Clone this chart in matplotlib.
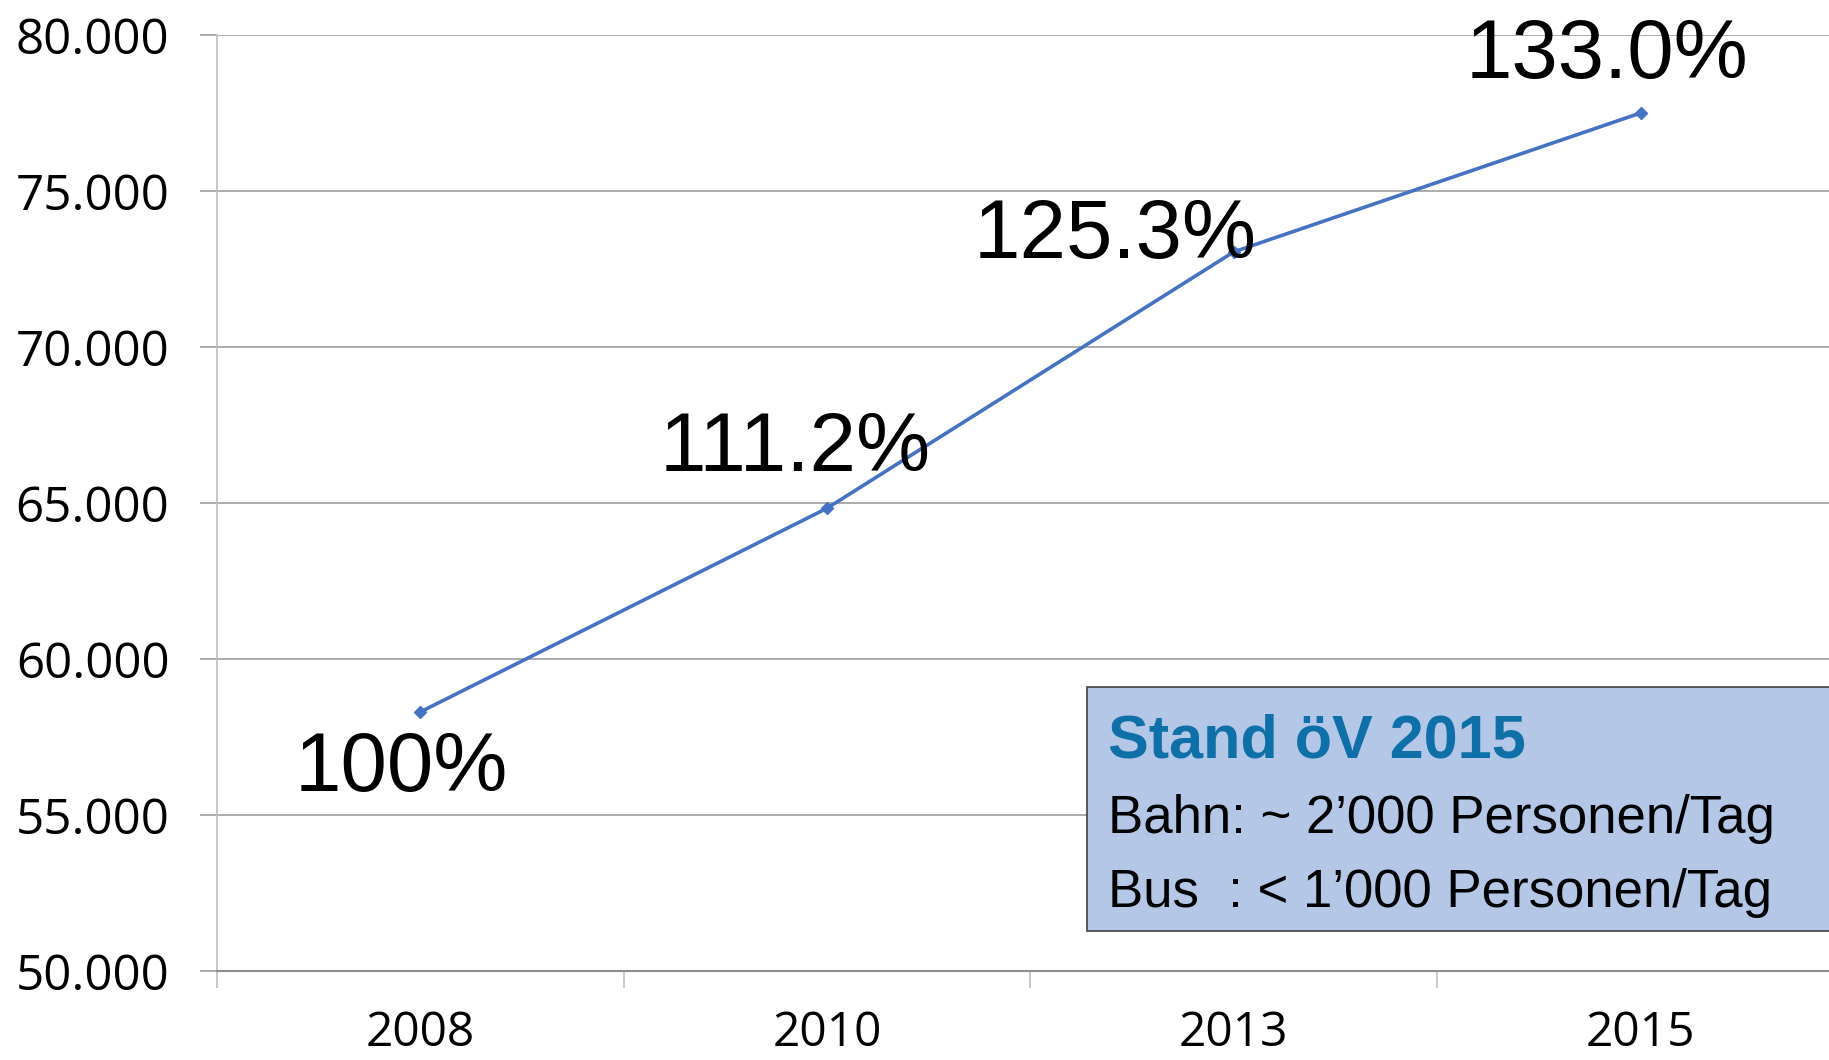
import matplotlib
matplotlib.use("Agg")
import matplotlib.pyplot as plt
from matplotlib.patches import Rectangle
from matplotlib.ticker import FuncFormatter

# daten
jahre = ["2008", "2010", "2013", "2015"]
personen = [58300, 64830, 73050, 77500]
prozent = ["100%", "111.2%", "125.3%", "133.0%"]
y_ticks = [50000, 55000, 60000, 65000, 70000, 75000, 80000]

box_titel = "Stand öV 2015"
box_zeilen = ["Bahn: ~ 2\u2019000 Personen/Tag", "Bus  : < 1\u2019000 Personen/Tag"]

# position der prozent-labels relativ zum punkt (in points)
label_offsets = [(-13.7, -56.9), (-22.5, 26.6), (-85.7, -4.3), (-24.5, 25.2)]

W, H = 1829, 1060
fig = plt.figure(figsize=(W / 100, H / 100), dpi=100)
ax = fig.add_axes([216.7 / W, 1 - 971 / H, (1844 - 216.7) / W, (971 - 35) / H])

x = list(range(len(jahre)))
ax.plot(x, personen, color="#4472C4", linewidth=2.6, marker="D", markersize=6.5, zorder=3)

for i, (v, txt) in enumerate(zip(personen, prozent)):
    ax.annotate(txt, (i, v), xytext=label_offsets[i], textcoords="offset points",
                ha="center", va="baseline", fontsize=60, family="Liberation Sans",
                color="black", zorder=4)

# y-achse
ax.set_ylim(50000, 80000)
ax.set_yticks(y_ticks)
ax.yaxis.set_major_formatter(FuncFormatter(lambda v, p: f"{int(v):,}".replace(",", ".")))
ax.grid(axis="y", color="#A6A6A6", linewidth=1.3)
ax.set_axisbelow(True)
ax.tick_params(axis="y", length=12, width=1.3, color="#A6A6A6", pad=22, labelsize=35.5)

# x-achse: striche zwischen kategorien, labels in der mitte
ax.set_xlim(-0.5, len(jahre) - 0.5)
ax.set_xticks([i - 0.5 for i in range(len(jahre) + 1)])
ax.set_xticklabels([])
ax.set_xticks(x, minor=True)
ax.set_xticklabels(jahre, minor=True)
ax.tick_params(axis="x", which="major", length=12, width=1.2, color="#BFBFBF")
ax.tick_params(axis="x", which="minor", length=0, pad=28, labelsize=34.5)

for lbl in ax.get_yticklabels() + ax.get_xticklabels(minor=True):
    lbl.set_family("Open Sans")

ax.spines["top"].set_visible(False)
ax.spines["right"].set_visible(False)
ax.spines["left"].set_color("#BFBFBF")
ax.spines["left"].set_linewidth(1.2)
ax.spines["bottom"].set_color("#8C8C8C")
ax.spines["bottom"].set_linewidth(1.5)

# info-box
box = Rectangle((1087 / W, 1 - 931 / H), 0.5, (931 - 687) / H, transform=fig.transFigure,
                facecolor="#B4C7E7", edgecolor="#404040", linewidth=1.2, zorder=5)
fig.patches.append(box)
fig.text(1108 / W, 1 - 757 / H, box_titel, fontsize=44, fontweight="bold",
         family="Liberation Sans", color="#0E70A8", va="baseline", zorder=6)
fig.text(1108 / W, 1 - 833 / H, box_zeilen[0], fontsize=38, family="Liberation Sans",
         color="black", va="baseline", zorder=6)
fig.text(1108 / W, 1 - 907 / H, box_zeilen[1], fontsize=38, family="Liberation Sans",
         color="black", va="baseline", zorder=6)

fig.savefig("out.png", dpi=100)
